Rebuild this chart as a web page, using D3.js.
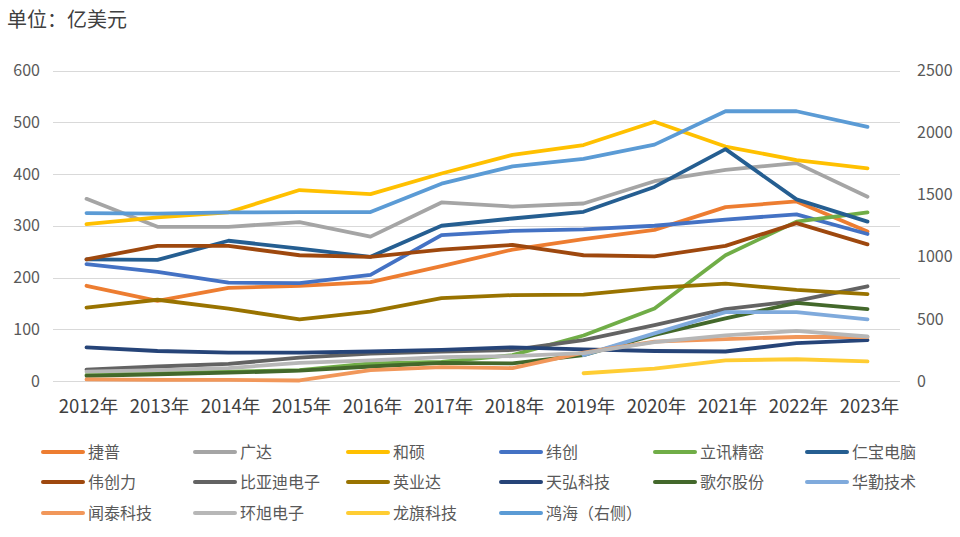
<!DOCTYPE html>
<html><head><meta charset="utf-8">
<script src="https://cdn.jsdelivr.net/npm/d3@7"></script>
<style>
html,body{margin:0;padding:0;background:#fff;}
svg{display:block;font-family:"Noto Sans CJK SC","Noto Sans",sans-serif;}
</style></head>
<body>
<svg id="chart" width="960" height="537"></svg>
<script>
const years = ["2012年","2013年","2014年","2015年","2016年","2017年","2018年","2019年","2020年","2021年","2022年","2023年"];
const leftTicks = [0,100,200,300,400,500,600];
const rightTicks = [0,500,1000,1500,2000,2500];
const seriesNames = ["捷普","广达","和硕","纬创","立讯精密","仁宝电脑","伟创力","比亚迪电子","英业达","天弘科技","歌尔股份","华勤技术","闻泰科技","环旭电子","龙旗科技","鸿海（右侧）"];
const seriesColors = ["#ED7D31","#A5A5A5","#FFC000","#4472C4","#70AD47","#255E91","#9E480E","#636363","#997300","#264478","#43682B","#7FAADC","#F1975A","#B7B7B7","#FFCD33","#5B9BD5"];
const jabil   = [184,155,180,184,191,222,254,274,292,336,347,289];
const quanta  = [352,298,298,307,279,345,337,343,386,408,421,356];
const pegatron= [303,316,326,369,361,401,437,456,501,453,427,411];
const wistron = [226,211,190,189,205,282,290,293,300,312,322,284];
const luxshare= [12,15,18,21,34,37,50,88,140,243,308,326];
const compal  = [235,234,271,256,240,300,314,327,375,448,351,308];
const flex    = [235,261,261,243,240,254,263,243,241,261,305,264];
const bydE    = [22,28,33,45,53,57,60,79,108,139,155,183];
const inventec= [142,157,140,119,134,160,166,167,180,188,176,168];
const celestica=[65,58,55,55,57,60,65,61,58,57,73,79];
const goertek = [10,13,16,20,28,35,34,50,89,121,151,139];
const huaqin  = [null,null,null,null,null,null,null,50,92,133,133,119];
const wingtech= [3,2,2,1,21,27,25,55,76,81,85,85];
const usi     = [18,21,25,35,40,46,48,54,75,88,97,86];
const longcheer=[null,null,null,null,null,null,null,15,24,40,42,38];
const foxconn = [1352,1347,1357,1360,1360,1589,1728,1788,1903,2172,2172,2046];
const seriesValues = [jabil,quanta,pegatron,wistron,luxshare,compal,flex,bydE,inventec,celestica,goertek,huaqin,wingtech,usi,longcheer,foxconn];

const svg = d3.select("#chart");
const x = d3.scaleBand().domain(years).range([51,903]);
const yL = d3.scaleLinear().domain([0,600]).range([381,70.5]);
const yR = d3.scaleLinear().domain([0,2500]).range([381,70.5]);
const fontFam = "'Noto Sans CJK SC','Noto Sans',sans-serif";

// title
svg.append("text").attr("x",7).attr("y",27).attr("font-size",20).attr("fill","#404040").text("单位：亿美元");

// gridlines
svg.append("g").selectAll("line").data(leftTicks).join("line")
  .attr("x1",53).attr("x2",900).attr("y1",d=>Math.round(yL(d))+0.5).attr("y2",d=>Math.round(yL(d))+0.5)
  .attr("stroke","#D9D9D9").attr("stroke-width",1);

// left axis labels
const axL = svg.append("g").attr("transform","translate(40,0)")
  .call(d3.axisLeft(yL).tickValues(leftTicks).tickFormat(d3.format("d")).tickSize(0).tickPadding(0));
axL.select(".domain").remove();
axL.selectAll("text").attr("font-size",16).attr("fill","#595959").attr("font-family",fontFam);

// right axis labels
const axR = svg.append("g").attr("transform","translate(917,0)")
  .call(d3.axisRight(yR).tickValues(rightTicks).tickFormat(d3.format("d")).tickSize(0).tickPadding(0));
axR.select(".domain").remove();
axR.selectAll("text").attr("font-size",16).attr("fill","#595959").attr("font-family",fontFam);

// x axis labels
const axX = svg.append("g").attr("transform","translate(2,396)")
  .call(d3.axisBottom(x).tickSize(0).tickPadding(0));
axX.select(".domain").remove();
axX.selectAll("text").attr("font-size",18.5).attr("fill","#404040").attr("dy","0.9em").attr("font-family",fontFam);

// lines
const cx = d => x(d) + x.bandwidth()/2;
seriesNames.forEach((name,i)=>{
  const yS = i === seriesNames.length-1 ? yR : yL;
  const line = d3.line().defined(d=>d.v!==null).x(d=>cx(d.y)).y(d=>yS(d.v));
  const data = years.map((yr,j)=>({y:yr,v:seriesValues[i][j]}));
  svg.append("path").datum(data).attr("d",line).attr("fill","none")
    .attr("stroke",seriesColors[i]).attr("stroke-width",3.8)
    .attr("stroke-linejoin","round").attr("stroke-linecap","round");
});

// legend
const legX = [43,195,348,501,655,807];
const legY = [452,482,513];
const lg = svg.append("g");
seriesNames.forEach((name,i)=>{
  const col = i%6, row = Math.floor(i/6);
  const g = lg.append("g").attr("transform",`translate(${legX[col]},${legY[row]})`);
  g.append("line").attr("x1",0).attr("x2",40).attr("y1",0).attr("y2",0)
    .attr("stroke",seriesColors[i]).attr("stroke-width",4).attr("stroke-linecap","round");
  g.append("text").attr("x",45).attr("y",0).attr("dy","0.35em").attr("font-size",16)
    .attr("fill","#595959").text(name);
});
</script>
</body></html>
